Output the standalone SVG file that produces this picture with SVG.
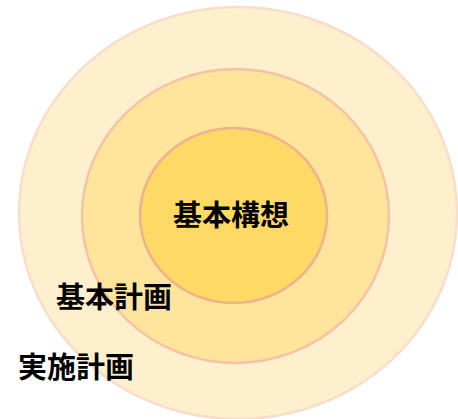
<svg xmlns="http://www.w3.org/2000/svg" width="458" height="419" viewBox="0 0 458 419">
<style>
text{font-family:"Noto Sans CJK JP","Noto Sans CJK SC",sans-serif;font-weight:bold;font-size:29px;fill:#000}
</style>
<rect width="458" height="419" fill="#fff"/>
<g id="outer">
<ellipse cx="238" cy="213" rx="219" ry="206" fill="#FFF0CD" stroke="#FADCCB" stroke-width="2.5"/>
<text x="18" y="378">実施計画</text>
</g>
<g id="middle">
<ellipse cx="235.5" cy="216" rx="153.5" ry="147" fill="#FFE49C" stroke="#F5C2A6" stroke-width="2.5"/>
<text x="56" y="308">基本計画</text>
</g>
<g id="inner">
<ellipse cx="233.5" cy="215.5" rx="93.5" ry="87.5" fill="#FFD966" stroke="#F1B08E" stroke-width="2.5"/>
<text x="231" y="226" text-anchor="middle">基本構想</text>
</g>
<g id="connectors"/>
</svg>
